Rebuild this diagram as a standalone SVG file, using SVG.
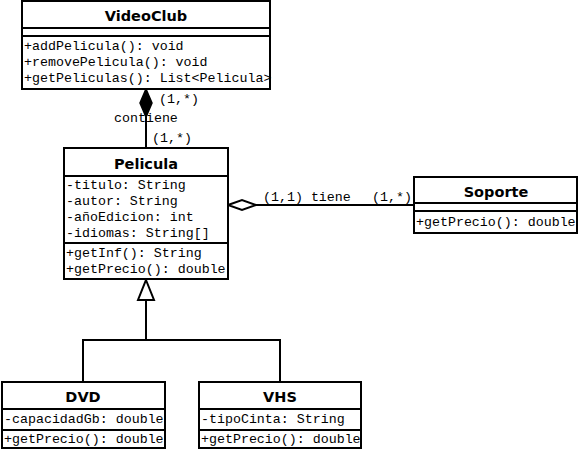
<svg xmlns="http://www.w3.org/2000/svg" width="579" height="451" viewBox="0 0 579 451">
<style>
.box{fill:#fff;stroke:#000;stroke-width:2}
.ln{stroke:#000;stroke-width:2;fill:none}
.t{font-family:"DejaVu Sans",Verdana,sans-serif;font-weight:bold;font-size:14.5px;text-anchor:middle;fill:#000}
.m{font-family:"Liberation Mono","Courier New",monospace;font-size:13.3px;fill:#000}
</style>
<rect width="579" height="451" fill="#fff"/>
<g id="connectors">
<line class="ln" x1="146" y1="117" x2="146" y2="148"/>
<polygon points="146,89 152,103 146,117 140,103" fill="#000" stroke="#000" stroke-width="1.5"/>
<line class="ln" x1="256" y1="205" x2="414" y2="205"/>
<polygon points="228,205 242,200 256,205 242,210" fill="#fff" stroke="#000" stroke-width="2"/>
<polyline class="ln" points="146,300 146,340"/>
<polyline class="ln" points="83,382 83,340 280,340 280,382"/>
<polygon points="146,280 154,300 138,300" fill="#fff" stroke="#000" stroke-width="2"/>
<text class="m" x="159" y="103">(1,*)</text>
<text class="m" x="114" y="122">contiene</text>
<text class="m" x="152" y="142">(1,*)</text>
<text class="m" x="263" y="201">(1,1) tiene</text>
<text class="m" x="372" y="201">(1,*)</text>
</g>
<g id="VideoClub">
<rect class="box" x="22" y="1" width="248" height="88"/>
<line class="ln" x1="22" y1="28" x2="270" y2="28"/>
<line class="ln" x1="22" y1="36" x2="270" y2="36"/>
<text class="t" x="146" y="21">VideoClub</text>
<text class="m" x="24" y="50">+addPelicula(): void</text>
<text class="m" x="24" y="66">+removePelicula(): void</text>
<text class="m" x="24" y="82">+getPeliculas(): List&lt;Pelicula&gt;</text>
</g>
<g id="Pelicula">
<rect class="box" x="64" y="148" width="164" height="131"/>
<line class="ln" x1="64" y1="176" x2="228" y2="176"/>
<line class="ln" x1="64" y1="243" x2="228" y2="243"/>
<text class="t" x="146" y="169">Pelicula</text>
<text class="m" x="66" y="189">-titulo: String</text>
<text class="m" x="66" y="205">-autor: String</text>
<text class="m" x="66" y="221">-añoEdicion: int</text>
<text class="m" x="66" y="237">-idiomas: String[]</text>
<text class="m" x="66" y="257">+getInf(): String</text>
<text class="m" x="66" y="273">+getPrecio(): double</text>
</g>
<g id="Soporte">
<rect class="box" x="414" y="177" width="163" height="56"/>
<line class="ln" x1="414" y1="203" x2="577" y2="203"/>
<line class="ln" x1="414" y1="211" x2="577" y2="211"/>
<text class="t" x="496" y="197">Soporte</text>
<text class="m" x="416" y="226">+getPrecio(): double</text>
</g>
<g id="DVD">
<rect class="box" x="2" y="382" width="163" height="66"/>
<line class="ln" x1="2" y1="409" x2="165" y2="409"/>
<line class="ln" x1="2" y1="430" x2="165" y2="430"/>
<text class="t" x="83" y="402">DVD</text>
<text class="m" x="4" y="423">-capacidadGb: double</text>
<text class="m" x="4" y="443">+getPrecio(): double</text>
</g>
<g id="VHS">
<rect class="box" x="199" y="382" width="162" height="66"/>
<line class="ln" x1="199" y1="409" x2="361" y2="409"/>
<line class="ln" x1="199" y1="430" x2="361" y2="430"/>
<text class="t" x="280" y="402">VHS</text>
<text class="m" x="201" y="423">-tipoCinta: String</text>
<text class="m" x="201" y="443">+getPrecio(): double</text>
</g>
</svg>
